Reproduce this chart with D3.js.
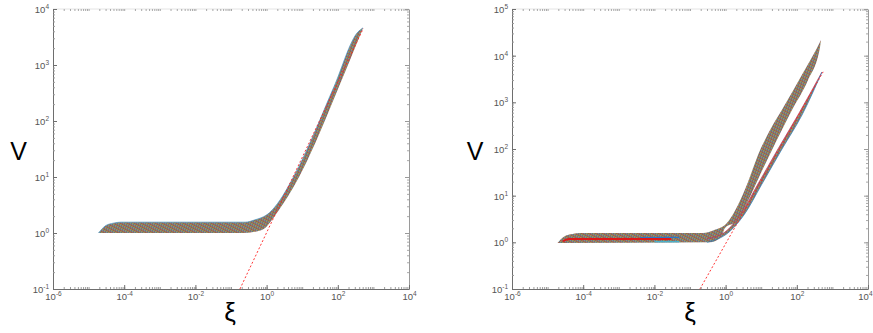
<!DOCTYPE html>
<html>
<head>
<meta charset="utf-8">
<script src="https://cdn.jsdelivr.net/npm/d3@7"></script>
<style>
  body { margin: 0; background: #fff; }
  svg { display: block; }
</style>
</head>
<body>
<div id="chart"></div>
<script>
// ---------- data ----------
const matlabColors = ["#0072BD", "#D95319", "#EDB120", "#7E2F8E", "#77AC30", "#4DBEEE", "#A2142F"];

const xTickExps = [-6, -4, -2, 0, 2, 4];
const leftYTickExps = [-1, 0, 1, 2, 3, 4];
const rightYTickExps = [-1, 0, 1, 2, 3, 4, 5];

// left panel: edges of the bundle of curves [xi, V]
const leftBandUpper = [[1.9e-5, 1.0], [3e-5, 1.35], [5e-5, 1.5], [8e-5, 1.56], [0.25, 1.56], [0.45, 1.7],
  [1.2, 2.3], [2.4, 3.9], [4.6, 7.8], [9.9, 20], [77, 400], [369, 3900], [510, 4600]];
const leftBandLower = [[1.9e-5, 1.0], [0.2, 1.0], [0.7, 1.12], [2.15, 2.5], [4.9, 5.6], [14, 20],
  [106, 400], [510, 4600]];
const leftRefLine = [[0.178, 0.1], [520, 4500]];

// right panel: main bundle (plateau + upper branch)
const rightBandUpper = [[1.9e-5, 0.97], [3e-5, 1.35], [5e-5, 1.5], [8e-5, 1.58], [0.23, 1.58], [0.5, 1.85],
  [1.09, 2.6], [2.23, 6.3], [4.26, 19.6], [8.13, 74], [17.7, 255], [40.9, 755], [149, 4250], [369, 14600],
  [478, 21600]];
const rightBandLower = [[1.9e-5, 0.97], [0.36, 1.0], [0.75, 1.3], [0.96, 2.03], [2.09, 2.87], [4.0, 7.0],
  [9.25, 27.7], [20.1, 95], [73.3, 684], [207, 3000], [449, 15300], [478, 21600]];
// right panel: lower (thin) branch
const rightBranchUpper = [[0.3, 1.2], [0.96, 1.66], [2.55, 3.86], [8.1, 17.8], [29.6, 100], [108, 535],
  [510, 4470]];
const rightBranchLower = [[0.3, 1.0], [1.25, 1.66], [3.28, 3.86], [10.5, 17.8], [38.4, 100], [140, 535],
  [510, 4470]];
const rightRedCurve = [[2.7e-5, 1.05], [4e-5, 1.18], [0.03, 1.18]];
const rightBlueCurve = [[0.004, 1.27], [0.05, 1.28]];
const rightCyanCurve = [[0.01, 1.03], [0.05, 1.03]];
const rightRefLine = [[0.19, 0.1], [550, 4500]];

// ---------- setup ----------
const W = 873, H = 333;
const FONT = "'Liberation Sans', Arial, sans-serif";

const svg = d3.select("#chart").append("svg")
  .attr("width", W)
  .attr("height", H);

const defs = svg.append("defs");
const pat = defs.append("pattern")
  .attr("id", "mix")
  .attr("patternUnits", "userSpaceOnUse")
  .attr("width", 7).attr("height", 7);
pat.append("rect").attr("width", 7).attr("height", 7).attr("fill", "#8c7d69");
for (let r = 0; r < 7; r++) {
  for (let c = 0; c < 7; c++) {
    pat.append("rect")
      .attr("x", c).attr("y", r).attr("width", 1).attr("height", 1)
      .attr("fill", matlabColors[(c * 2 + 3 * r) % 7])
      .attr("opacity", 0.3);
  }
}

function minorValues(lo, hi) {
  const v = [];
  for (let e = lo; e < hi; e++) {
    for (let k = 1; k <= 9; k++) v.push(k * Math.pow(10, e));
  }
  return v;
}

function powLabel(sel, e) {
  sel.text("10");
  sel.append("tspan")
    .attr("dy", -4)
    .style("font-size", "6.5px")
    .text(e);
}

function drawPanel(p) {
  const x = d3.scaleLog().domain([1e-6, 1e4]).range([p.x0, p.x1]);
  const y = d3.scaleLog().domain(p.yDomain).range([p.y1, p.y0]);
  const g = svg.append("g");

  const clipId = "clip" + p.id;
  defs.append("clipPath").attr("id", clipId)
    .append("rect")
    .attr("x", p.x0).attr("y", p.y0)
    .attr("width", p.x1 - p.x0).attr("height", p.y1 - p.y0);

  const plot = g.append("g").attr("clip-path", `url(#${clipId})`);

  const line = d3.line()
    .x(d => x(d[0]))
    .y(d => y(d[1]))
    .curve(d3.curveMonotoneX);

  function bandPath(upper, lower) {
    return line(upper) + line(lower.slice().reverse()).replace(/^M/, "L") + "Z";
  }

  p.bands.forEach(b => {
    plot.append("path")
      .attr("d", bandPath(b.upper, b.lower))
      .attr("fill", "url(#mix)")
      .attr("stroke", "none");
    if (b.upperStroke) {
      plot.append("path").attr("d", line(b.upper))
        .attr("fill", "none").attr("stroke", b.upperStroke)
        .attr("stroke-width", 1).attr("opacity", 0.7);
    }
    if (b.lowerStroke) {
      plot.append("path").attr("d", line(b.lower))
        .attr("fill", "none").attr("stroke", b.lowerStroke)
        .attr("stroke-width", 1).attr("opacity", 0.7);
    }
  });

  (p.curves || []).forEach(c => {
    plot.append("path").attr("d", line(c.data))
      .attr("fill", "none").attr("stroke", c.color)
      .attr("stroke-width", c.width);
  });

  plot.append("path")
    .attr("d", d3.line().x(d => x(d[0])).y(d => y(d[1]))(p.ref))
    .attr("fill", "none")
    .attr("stroke", "#ff2020")
    .attr("stroke-width", 0.9)
    .attr("stroke-dasharray", "2,2");

  // ---- axes box ----
  const yLo = Math.round(Math.log10(p.yDomain[0])), yHi = Math.round(Math.log10(p.yDomain[1]));
  const xMinor = minorValues(-6, 4);
  const yMinor = minorValues(yLo, yHi);
  const xMajor = xTickExps.map(e => Math.pow(10, e));
  const yMajor = p.yExps.map(e => Math.pow(10, e));

  // top (faint line, minor ticks)
  g.append("line").attr("x1", p.x0).attr("x2", p.x1).attr("y1", p.y0).attr("y2", p.y0)
    .attr("stroke", "#e4e4e4").attr("stroke-width", 1);
  g.append("g").attr("transform", `translate(0,${p.y0})`)
    .call(d3.axisTop(x).tickValues(xMinor).tickSizeInner(-2).tickSizeOuter(0).tickFormat(""))
    .call(a => a.select(".domain").remove())
    .call(a => a.selectAll("line").attr("stroke", "#a8a8a8"));

  // right
  g.append("g").attr("transform", `translate(${p.x1},0)`)
    .call(d3.axisRight(y).tickValues(yMinor).tickSizeInner(-2).tickSizeOuter(0).tickFormat(""))
    .call(a => a.select(".domain").attr("stroke", "#9a9a9a"))
    .call(a => a.selectAll("line").attr("stroke", "#a8a8a8"));
  g.append("g").attr("transform", `translate(${p.x1},0)`)
    .call(d3.axisRight(y).tickValues(yMajor).tickSizeInner(-4).tickSizeOuter(0).tickFormat(""))
    .call(a => a.select(".domain").remove())
    .call(a => a.selectAll("line").attr("stroke", "#9a9a9a"));

  // bottom
  g.append("g").attr("transform", `translate(0,${p.y1})`)
    .call(d3.axisBottom(x).tickValues(xMinor).tickSizeInner(-2).tickSizeOuter(0).tickFormat(""))
    .call(a => a.select(".domain").attr("stroke", "#6e6e6e"))
    .call(a => a.selectAll("line").attr("stroke", "#9a9a9a"));
  const xAx = g.append("g").attr("transform", `translate(0,${p.y1})`)
    .call(d3.axisBottom(x).tickValues(xMajor).tickSizeInner(-4).tickSizeOuter(0).tickFormat(""))
    .call(a => a.select(".domain").remove())
    .call(a => a.selectAll("line").attr("stroke", "#6e6e6e"));
  xAx.selectAll(".tick").append("text")
    .attr("y", 11)
    .attr("fill", "#555")
    .attr("text-anchor", d => (x(d) > W - 12 ? "end" : "middle"))
    .attr("x", d => (x(d) > W - 12 ? W - 1 - x(d) : 0))
    .style("font-family", FONT)
    .style("font-size", "9.5px")
    .each(function (d) { powLabel(d3.select(this), Math.round(Math.log10(d))); });

  // left
  g.append("g").attr("transform", `translate(${p.x0},0)`)
    .call(d3.axisLeft(y).tickValues(yMinor).tickSizeInner(-2).tickSizeOuter(0).tickFormat(""))
    .call(a => a.select(".domain").attr("stroke", "#6e6e6e"))
    .call(a => a.selectAll("line").attr("stroke", "#9a9a9a"));
  const yAx = g.append("g").attr("transform", `translate(${p.x0},0)`)
    .call(d3.axisLeft(y).tickValues(yMajor).tickSizeInner(-4).tickSizeOuter(0).tickFormat(""))
    .call(a => a.select(".domain").remove())
    .call(a => a.selectAll("line").attr("stroke", "#6e6e6e"));
  yAx.selectAll(".tick").append("text")
    .attr("x", -4)
    .attr("y", 3.5)
    .attr("fill", "#555")
    .attr("text-anchor", "end")
    .style("font-family", FONT)
    .style("font-size", "9.5px")
    .each(function (d) { powLabel(d3.select(this), Math.round(Math.log10(d))); });

  // axis labels
  g.append("text")
    .attr("x", p.vx).attr("y", 160)
    .attr("text-anchor", "middle")
    .style("font-family", FONT)
    .style("font-size", "25px")
    .attr("fill", "#000")
    .text("V");
  g.append("text")
    .attr("x", p.xix).attr("y", 321)
    .attr("text-anchor", "middle")
    .style("font-family", FONT)
    .style("font-size", "26px")
    .attr("fill", "#000")
    .text("ξ");
}

drawPanel({
  id: "L", x0: 53, x1: 409, y0: 9, y1: 289,
  yDomain: [0.1, 1e4], yExps: leftYTickExps,
  bands: [{ upper: leftBandUpper, lower: leftBandLower, upperStroke: "#3f8fbf" }],
  ref: leftRefLine,
  vx: 18.5, xix: 230
});

drawPanel({
  id: "R", x0: 512, x1: 868, y0: 9, y1: 289,
  yDomain: [0.1, 1e5], yExps: rightYTickExps,
  bands: [
    { upper: rightBandUpper, lower: rightBandLower },
    { upper: rightBranchUpper, lower: rightBranchLower, upperStroke: "#c0305a", lowerStroke: "#2a7fc0" }
  ],
  curves: [
    { data: rightRedCurve, color: "#e01818", width: 1.8 },
    { data: rightBlueCurve, color: "#2a78c8", width: 1.2 },
    { data: rightCyanCurve, color: "#40b8d8", width: 1.2 }
  ],
  ref: rightRefLine,
  vx: 475, xix: 690
});
</script>
</body>
</html>
